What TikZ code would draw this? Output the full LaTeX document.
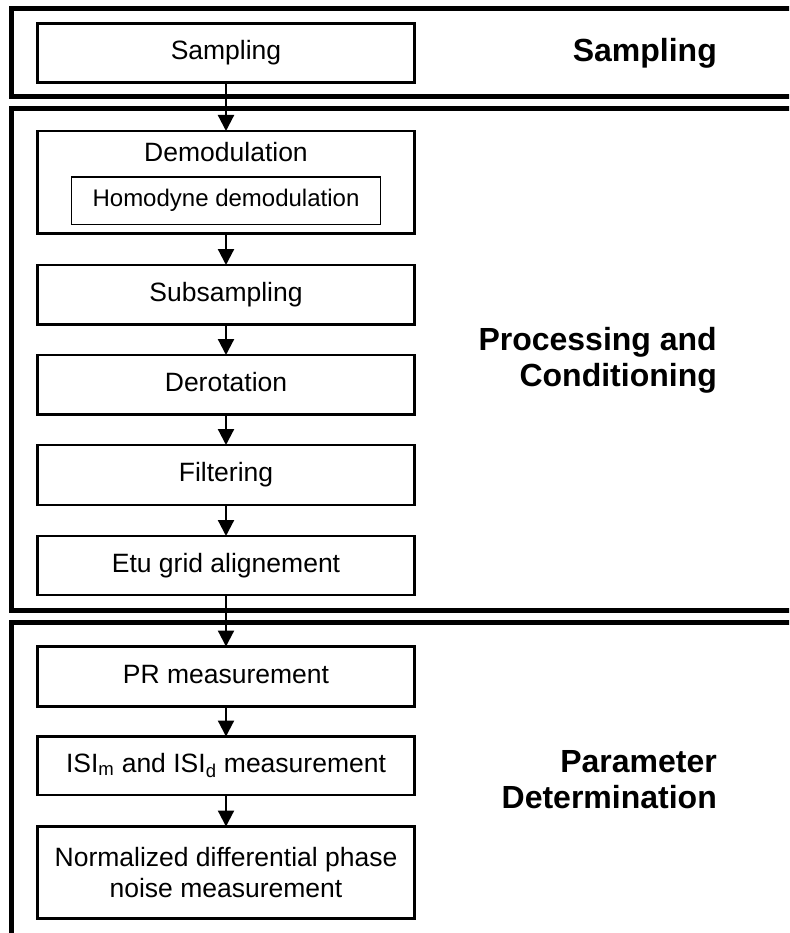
\documentclass[tikz,border=0pt]{standalone}
\usepackage{fontspec}
\setmainfont{Liberation Sans}
\usetikzlibrary{positioning,arrows.meta}

\begin{document}
\begin{tikzpicture}[
    x=1pt, y=-1pt,
    >={Triangle[length=16pt,width=16pt]},
    stageframe/.style={draw=black, line width=5pt},
    stepbox/.style={draw=black, line width=2.8pt, minimum width=377pt, minimum height=59.5pt,
        inner sep=0pt, outer sep=0pt, font=\fontsize{26.5}{31.5}\selectfont,
        text height=19.5pt, text depth=6.5pt},
    innerbox/.style={draw=black, line width=1.8pt, minimum width=309pt, minimum height=47.5pt,
        inner sep=0pt, outer sep=0pt, font=\fontsize{24}{29}\selectfont,
        text height=18pt, text depth=6pt},
    stagelabel/.style={anchor=east, align=right, inner sep=0pt,
        font=\fontsize{32}{36}\selectfont\bfseries},
    flow/.style={->, line width=2.2pt}
]
\useasboundingbox (0,0) rectangle (789,933);
\clip (0,0) rectangle (789,933);

% three stage frames, running off the right and bottom edges
\draw[stageframe] (11.5,8.5) rectangle (820,97);
\draw[stageframe] (11.5,108.5) rectangle (820,610);
\draw[stageframe] (11.5,622.5) rectangle (820,936);

% Sampling
\node[stepbox, minimum height=59pt] (sampling) at (226,53) {Sampling};
\node[stagelabel] (lblsampling) at (717,53) {Sampling};

% Processing and conditioning
\node[stepbox, minimum height=102.5pt] (demod) at (226,182.25) {};
\node[stepbox, draw=none, minimum height=0pt, minimum width=0pt, anchor=north]
  (demodtitle) at ([yshift=-11pt]demod.north) {Demodulation};
\node[innerbox] (homodyne) at (226,200.75) {Homodyne demodulation};
\node[stepbox, below=31.5pt of demod] (subsampling) {Subsampling};
\node[stepbox, below=30.5pt of subsampling] (derotation) {Derotation};
\node[stepbox, minimum height=60pt, below=30.5pt of derotation] (filtering) {Filtering};
\node[stepbox, minimum height=59pt, below=31pt of filtering] (etu) {Etu grid alignement};
\node[stagelabel] (lblprocessing) at (717,360) {Processing and\\Conditioning};

% Parameter determination
\node[stepbox, minimum height=60pt] (pr) at (226,676.5) {PR measurement};
\node[stepbox, minimum height=58.5pt, below=30pt of pr] (isi)
  {ISI\textsubscript{m} and ISI\textsubscript{d} measurement};
\node[stepbox, minimum height=92pt, below=31.5pt of isi, align=center,
  text height=, text depth=] (noise) {Normalized differential phase\\noise measurement};
\node[stagelabel] (lblparameter) at (717,780) {Parameter\\Determination};

\draw[flow] (sampling.south) -- (demod.north);
\draw[flow] (demod.south) -- (subsampling.north);
\draw[flow] (subsampling.south) -- (derotation.north);
\draw[flow] (derotation.south) -- (filtering.north);
\draw[flow] (filtering.south) -- (etu.north);
\draw[flow] (etu.south) -- (pr.north);
\draw[flow] (pr.south) -- (isi.north);
\draw[flow] (isi.south) -- (noise.north);
\end{tikzpicture}
\end{document}
